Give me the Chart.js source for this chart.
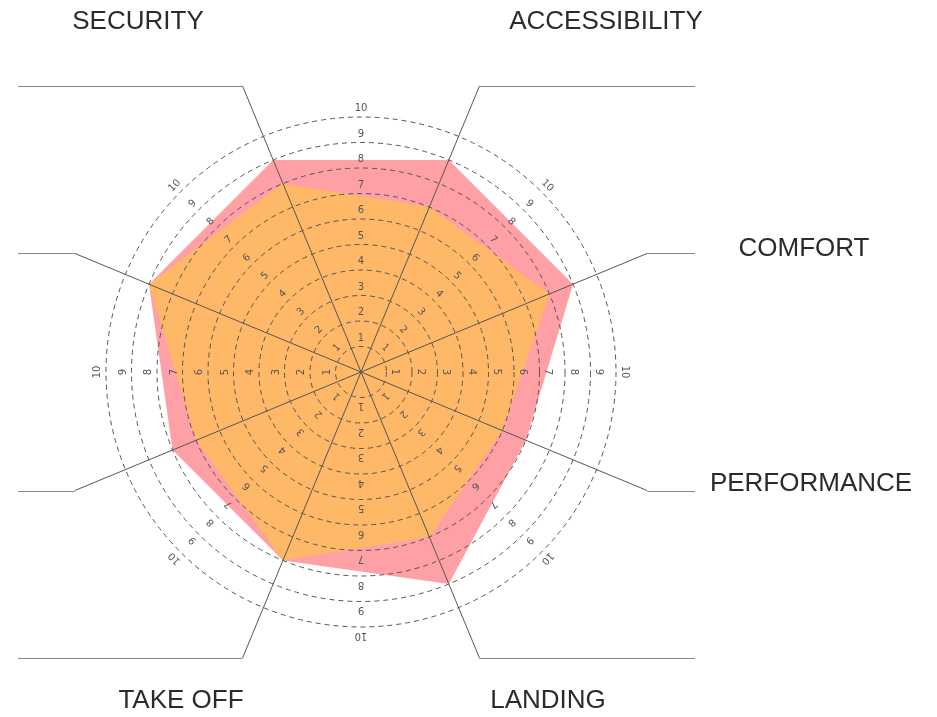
<!DOCTYPE html>
<html>
<head>
<meta charset="utf-8">
<script src="https://cdn.jsdelivr.net/npm/chart.js@4/dist/chart.umd.min.js"></script>
<style>
  html, body { margin: 0; padding: 0; background: #ffffff; }
  #wrap { width: 937px; height: 717px; position: relative; }
</style>
</head>
<body>
<div id="wrap"><canvas id="c" width="937" height="717"></canvas></div>
<script>
// ---- data ----
const categories = ['ACCESSIBILITY', 'COMFORT', 'PERFORMANCE', 'LANDING', 'TAKE OFF', '', '', 'SECURITY'];
const outerSeries = [9, 9, 7, 9, 8, 8, 9, 9];   // pink
const innerSeries = [7, 8, 6, 7, 8, 7, 9, 8];   // orange
const tickLabels = ['1', '2', '3', '4', '5', '6', '7', '8', '9', '10'];
const tickValues = [1, 2, 3, 4, 5, 6, 7, 8, 9, 10];

// ---- layout / style (not data) ----
const labelPlacement = {
  'ACCESSIBILITY': [606, 22],
  'COMFORT': [804, 249],
  'PERFORMANCE': [811, 484],
  'LANDING': [548, 701],
  'TAKE OFF': [181, 701],
  'SECURITY': [138, 22]
};

const overlay = {
  id: 'overlay',
  afterDatasetsDraw(chart) {
    const s = chart.scales.r;
    const ctx = chart.ctx;
    const cx = s.xCenter, cy = s.yCenter;
    ctx.save();
    // dashed rings
    ctx.strokeStyle = '#555';
    ctx.lineWidth = 1;
    ctx.setLineDash([5, 4]);
    tickValues.forEach(v => {
      const r = s.getDistanceFromCenterForValue(v);
      ctx.beginPath();
      ctx.arc(cx, cy, r, 0, Math.PI * 2);
      ctx.stroke();
    });
    ctx.setLineDash([]);
    // spokes + leader lines
    const n = categories.length;
    for (let i = 0; i < n; i++) {
      const p = s.getPointPosition(i, s.drawingArea * 1.215);
      ctx.strokeStyle = '#555';
      ctx.lineWidth = 1;
      ctx.beginPath();
      ctx.moveTo(cx, cy);
      ctx.lineTo(p.x, p.y);
      ctx.stroke();
      const endX = p.x < cx ? 18 : 695;
      ctx.strokeStyle = '#888';
      ctx.beginPath();
      ctx.moveTo(p.x, Math.round(p.y) + 0.5);
      ctx.lineTo(endX, Math.round(p.y) + 0.5);
      ctx.stroke();
    }
    // tick labels along 8 directions
    ctx.fillStyle = '#555';
    ctx.font = '10px "DejaVu Sans"';
    ctx.textAlign = 'center';
    ctx.textBaseline = 'middle';
    for (let k = 0; k < 8; k++) {
      const th = k * Math.PI / 4;
      tickValues.forEach((v, j) => {
        const d = s.getDistanceFromCenterForValue(v) + 8.5;
        ctx.save();
        ctx.translate(cx + d * Math.sin(th), cy - d * Math.cos(th));
        ctx.rotate(th);
        ctx.fillText(tickLabels[j], 0, 0);
        ctx.restore();
      });
    }
    // category labels
    ctx.fillStyle = '#2b2b2b';
    ctx.font = '26px "Liberation Sans", Arial, sans-serif';
    ctx.textAlign = 'center';
    ctx.textBaseline = 'middle';
    categories.forEach(c => {
      if (c && labelPlacement[c]) {
        const [x, y] = labelPlacement[c];
        ctx.fillText(c, x, y);
      }
    });
    ctx.restore();
  }
};

new Chart(document.getElementById('c'), {
  type: 'radar',
  data: {
    labels: categories,
    datasets: [
      {
        label: 'inner',
        data: innerSeries,
        backgroundColor: '#ffb867',
        borderWidth: 0,
        pointRadius: 0,
        fill: true
      },
      {
        label: 'outer',
        data: outerSeries,
        backgroundColor: '#ffa0a6',
        borderWidth: 0,
        pointRadius: 0,
        fill: true
      }
    ]
  },
  options: {
    responsive: false,
    animation: false,
    devicePixelRatio: 1,
    layout: { padding: { left: 106, right: 321, top: 117, bottom: 90 } },
    plugins: { legend: { display: false }, tooltip: { enabled: false } },
    elements: { line: { tension: 0 } },
    scales: {
      r: {
        min: 0,
        max: 10,
        startAngle: 22.5,
        ticks: { display: false, stepSize: 1 },
        grid: { display: false },
        angleLines: { display: false },
        pointLabels: { display: false }
      }
    }
  },
  plugins: [overlay]
});
</script>
</body>
</html>
